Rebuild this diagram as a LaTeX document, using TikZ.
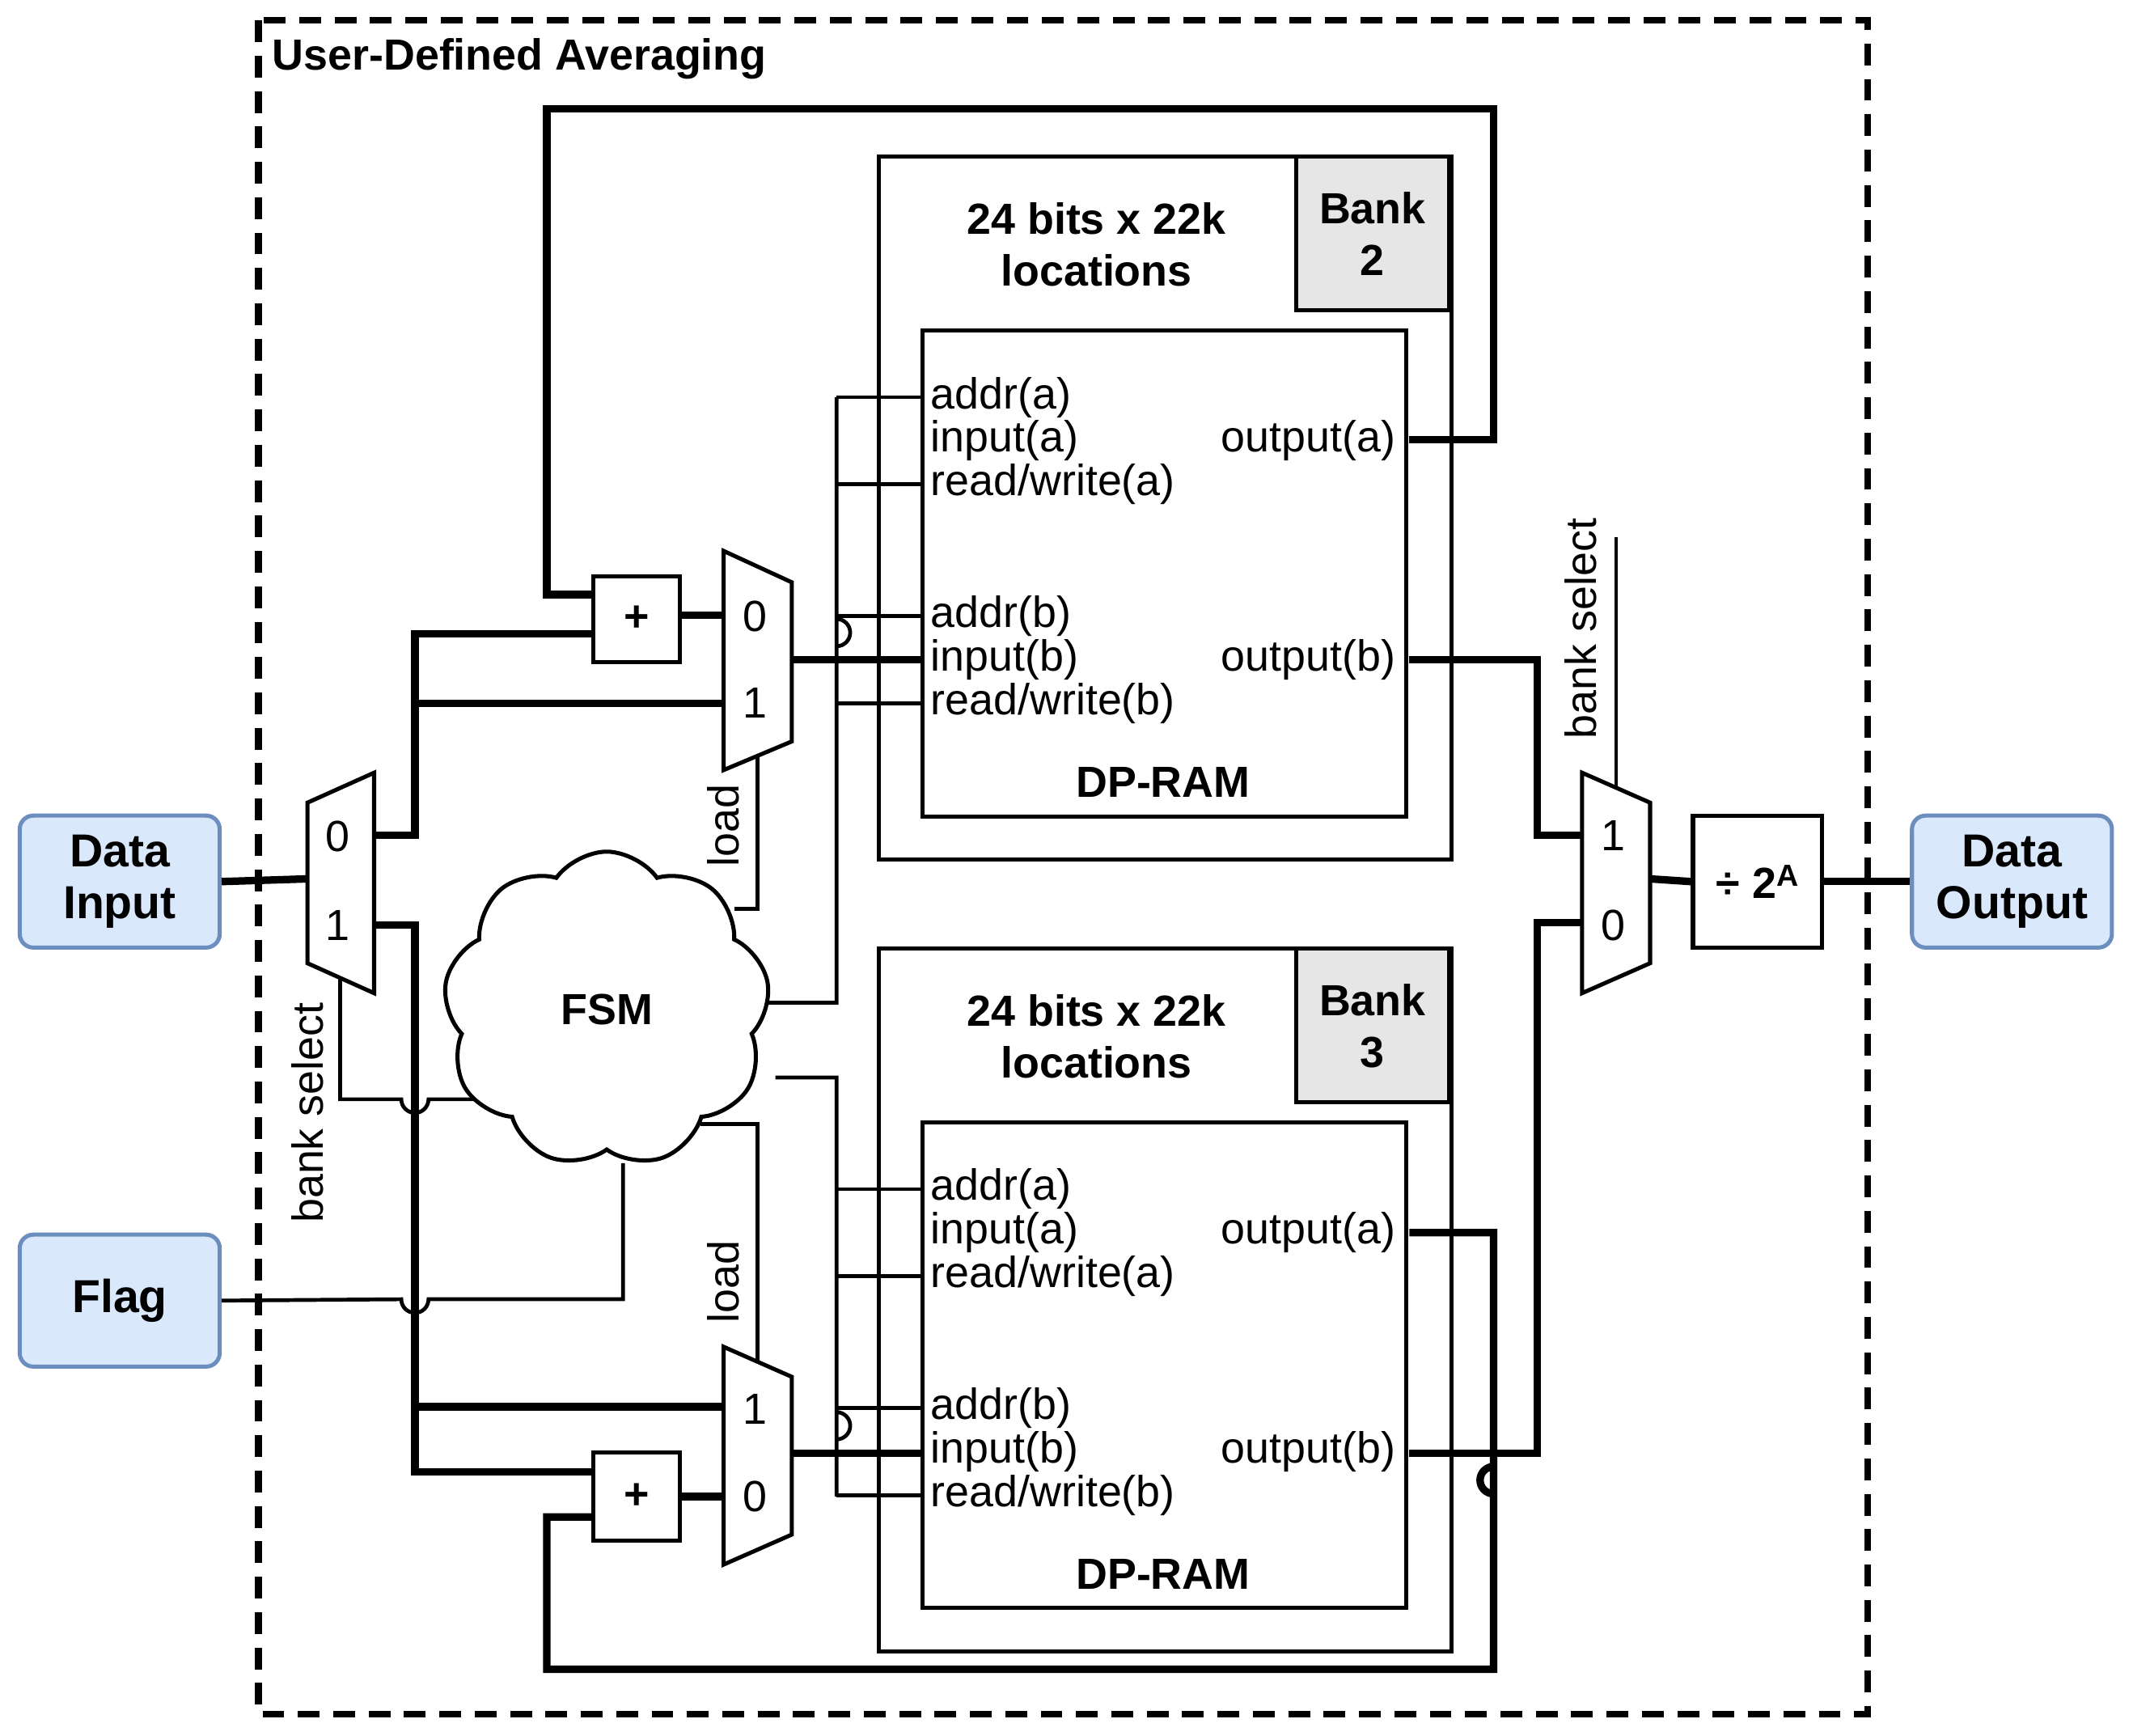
\documentclass[tikz,border=0pt]{standalone}
\usepackage{fontspec}
\setmainfont{Liberation Sans}
\usetikzlibrary{shapes.symbols}
\definecolor{boxblue}{HTML}{DAE8FC}
\definecolor{edgeblue}{HTML}{6C8EBF}
\definecolor{bankgray}{HTML}{E6E6E6}
\begin{document}
\begin{tikzpicture}[x=1pt,y=-1pt,
  thin/.style={line width=2.8pt},
  thick/.style={line width=5.5pt},
  io/.style={draw=edgeblue,fill=boxblue,line width=3pt,rounded corners=10pt,minimum width=147pt,minimum height=97pt,align=center,font=\fontsize{34}{38}\selectfont\bfseries},
  port/.style={font=\fontsize{32}{32}\selectfont,inner sep=0pt},
  bold/.style={font=\fontsize{32}{38}\selectfont\bfseries,align=center},
  lab/.style={font=\fontsize{32}{32}\selectfont,inner sep=0pt},
  blk/.style={draw,line width=3pt,fill=white}]
\useasboundingbox (0,0) rectangle (1568,1276);
% frame
\draw[line width=5pt,dash pattern=on 16pt off 10pt] (190,15) rectangle (1373,1260);
\node[anchor=west,font=\fontsize{32}{32}\selectfont\bfseries,inner sep=0pt] (title) at (200,43) {User-Defined Averaging};
% IO
\node[io] (din) at (88,648) {Data\\Input};
\node[io] (flag) at (88,956) {Flag};
\node[io] (dout) at (1479,648) {Data\\Output};
% banks
\foreach \n/\y in {2/0,3/582}{
  \draw[line width=3pt] (646,115+\y) rectangle (1067,632+\y);
  \draw[line width=3pt,fill=bankgray] (953,115+\y) rectangle (1065,228+\y);
  \node[bold] at (1009,172+\y) {Bank\\\n};
  \node[bold] at (806,180+\y) {24 bits x 22k\\locations};
  \draw[line width=3pt] (678,243+\y) rectangle (1034,600+\y);
  \node[bold] at (855,575+\y) {DP-RAM};
  \node[port,anchor=west] at (684,292+\y) {addr(a)};
  \node[port,anchor=west] at (684,324+\y) {input(a)};
  \node[port,anchor=west] at (684,356+\y) {read/write(a)};
  \node[port,anchor=west] at (684,453+\y) {addr(b)};
  \node[port,anchor=west] at (684,485+\y) {input(b)};
  \node[port,anchor=west] at (684,517+\y) {read/write(b)};
  \node[port,anchor=east] at (1026,324+\y) {output(a)};
  \node[port,anchor=east] at (1026,485+\y) {output(b)};
  % control wires
  \foreach \yy in {292,356,453,517}{\draw[thin] (615,\yy+\y) -- (678,\yy+\y);}
}
\coordinate (oa2) at (1036,323);
\coordinate (ob2) at (1036,485);
\coordinate (oa3) at (1036,906);
\coordinate (ob3) at (1036,1068);
% vertical control wires with hops
\draw[thin] (615,292) -- (615,475) arc(90:-90:10) -- (615,737) -- (548,737);
\draw[thin] (570,792) -- (615,792) -- (615,1058) arc(90:-90:10) -- (615,1100);
% muxes
\draw[blk] (226,590) -- (275,568) -- (275,730) -- (226,708) -- cycle;
\node[lab] at (248,615) {0}; \node[lab] at (248,680) {1};
\draw[blk] (532,405) -- (582,428) -- (582,545) -- (532,566) -- cycle;
\node[lab] at (555,453) {0}; \node[lab] at (555,517) {1};
\draw[blk] (532,990) -- (582,1012) -- (582,1128) -- (532,1150) -- cycle;
\node[lab] at (555,1036) {1}; \node[lab] at (555,1100) {0};
\draw[blk] (1163,568) -- (1213,590) -- (1213,708) -- (1163,730) -- cycle;
\node[lab] at (1186,614) {1}; \node[lab] at (1186,680) {0};
% adders / divider
\node[blk,minimum width=64pt,minimum height=63pt,font=\fontsize{32}{32}\selectfont\bfseries] (add1) at (468,455) {+};
\node[blk,minimum width=64pt,minimum height=65pt,font=\fontsize{32}{32}\selectfont\bfseries] (add2) at (468,1100) {+};
\node[blk,minimum width=95pt,minimum height=97pt,font=\fontsize{32}{32}\selectfont\bfseries] (div) at (1292,648) {÷ 2\textsuperscript{A}};
% thick data paths
\draw[thick] (din.east) -- (226,646);
\draw[thick] (275,614) -- (305,614) -- (305,466) -- (436,466);
\draw[thick] (305,517) -- (532,517);
\draw[thick] (275,680) -- (305,680) -- (305,1082) -- (436,1082);
\draw[thick] (305,1034) -- (532,1034);
\draw[thick] (500,452) -- (532,452);
\draw[thick] (500,1100) -- (532,1100);
\draw[thick] (582,485) -- (678,485);
\draw[thick] (582,1068) -- (678,1068);
\draw[thick] (436,437) -- (402,437) -- (402,80) -- (1098,80) -- (1098,323) -- (oa2);
\draw[thick] (436,1115) -- (402,1115) -- (402,1227) -- (1098,1227) -- (1098,1078) arc(-90:-270:10) -- (1098,906) -- (oa3);
\draw[thick] (ob2) -- (1130,485) -- (1130,614) -- (1163,614);
\draw[thick] (ob3) -- (1130,1068) -- (1130,678) -- (1163,678);
\draw[thick] (1213,646) -- (div.west);
\draw[thick] (div.east) -- (dout.west);
% thin control
\draw[thin] (250,720) -- (250,808) -- (295,808) arc(180:0:10) -- (350,808);
\draw[thin] (flag.east) -- (295,955) arc(180:0:10) -- (458,955) -- (458,855);
\draw[thin] (557,555) -- (557,668) -- (540,668);
\draw[thin] (557,1000) -- (557,826) -- (515,826);
\draw[thin] (1188,395) -- (1188,578);
% FSM cloud
\node[cloud,cloud puffs=9,cloud puff arc=110,aspect=1.05,draw,line width=3pt,fill=white,minimum width=240pt,minimum height=232pt,inner sep=0pt,font=\fontsize{32}{32}\selectfont\bfseries] (fsm) at (446,742) {FSM};
% rotated labels
\node[lab,rotate=90] at (226,818) {bank select};
\node[lab,rotate=90] at (532,607) {load};
\node[lab,rotate=90] at (532,942) {load};
\node[lab,rotate=90] at (1162,462) {bank select};
\end{tikzpicture}
\end{document}
